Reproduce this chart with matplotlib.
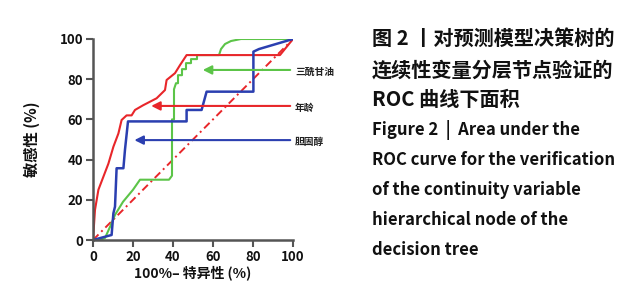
import matplotlib
matplotlib.use("Agg")
import matplotlib.pyplot as plt

plt.rcParams['font.family'] = ['Noto Sans CJK SC', 'DejaVu Sans']

# ROC 曲线数据 (100% - 特异性, 敏感性)
tg_x = [0, 3.5, 6, 8.5, 11, 15, 20, 23.5, 38, 39.5, 39.5, 40.5, 40.5, 41.5, 42.5,
        42.5, 44.5, 44.5, 46.5, 46.5, 49, 49, 52, 52, 63, 64, 66, 69, 74, 100]
tg_y = [0, 0, 1, 6.5, 12.5, 19, 25, 30, 30, 32, 60, 60, 75, 78, 78,
        82, 82, 85, 85, 88, 88, 90, 90, 92, 92, 95, 97.5, 99, 100, 100]

age_x = [0, 1, 2.7, 5.2, 7.7, 10.2, 12.7, 14.3, 16.8, 19.3, 21, 25, 31.8, 36, 36.8,
         41, 43.5, 46.8, 93.5, 100]
age_y = [0, 15, 25, 31.5, 38, 46.4, 53, 59.7, 62, 62, 64.7, 67, 70.5, 74.6, 79.6,
         83, 87, 92, 92, 100]

chol_x = [0, 9.3, 10.2, 11, 11.8, 15.2, 16, 17.5, 46.8, 46.8, 54.3, 56.8, 80.2,
          80.2, 83, 100]
chol_y = [0, 2.5, 13.3, 16.6, 35.7, 35.7, 45, 59, 59, 64.7, 64.7, 73.8, 73.8,
          93.7, 95, 100]

ref_x = [0, 100]
ref_y = [0, 100]

labels = ['三酰甘油', '年龄', '胆固醇']
arrow_tip_x = [53.5, 27.7, 19.3]
arrow_y = [84.6, 66.7, 49.7]

green = '#5cc448'
red = '#e8262a'
blue = '#2b3fb0'
colors = [green, red, blue]

caption = ['图 2 丨对预测模型决策树的', '连续性变量分层节点验证的', 'ROC 曲线下面积',
           'Figure 2  |  Area under the', 'ROC curve for the verification',
           'of the continuity variable', 'hierarchical node of the', 'decision tree']

fig = plt.figure(figsize=(6.36, 3.0), dpi=100)
ax = fig.add_axes([93 / 636, 60 / 300, 200 / 636, 201 / 300])

ax.plot(ref_x, ref_y, color=red, lw=1.4, ls=(0, (4, 2, 1, 2)))
ax.plot(tg_x, tg_y, color=green, lw=1.5)
ax.plot(age_x, age_y, color=red, lw=1.5)
ax.plot(chol_x, chol_y, color=blue, lw=1.8)

for lab, tx, ay, c in zip(labels, arrow_tip_x, arrow_y, colors):
    ax.annotate('', xy=(tx, ay), xytext=(100, ay),
                arrowprops=dict(arrowstyle='-|>', color=c, lw=1.5, mutation_scale=13),
                annotation_clip=False)
    ax.text(101, ay - 1, lab, fontsize=7, fontweight='bold', color='#222222',
            va='center', ha='left', clip_on=False)

ax.set_xlim(0, 100)
ax.set_ylim(0, 100)
ax.set_xticks(range(0, 101, 20))
ax.set_yticks(range(0, 101, 20))
for s in ['top', 'right']:
    ax.spines[s].set_visible(False)
for s in ['left', 'bottom']:
    ax.spines[s].set_color('#555555')
    ax.spines[s].set_linewidth(1.8)
ax.tick_params(direction='out', length=5, width=1.5, color='#555555',
               labelsize=9.5, labelcolor='#111111', pad=2)
for t in ax.get_xticklabels() + ax.get_yticklabels():
    t.set_fontweight('bold')

ax.set_xlabel('100%– 特异性 (%)', fontsize=10, fontweight='bold', color='#111111', labelpad=1)
ax.set_ylabel('敏感性 (%)', fontsize=11, fontweight='bold', color='#111111', labelpad=14)

ys = [38, 70, 100, 130, 160, 190, 220, 250]
for line, y in zip(caption, ys):
    fs = 14.5 if any(ord(ch) > 0x3000 for ch in line) else 12
    fig.text(372 / 636, 1 - y / 300, line, fontsize=fs, fontweight='bold',
             color='#111111', va='center', ha='left')

fig.savefig('out.png', dpi=100)
